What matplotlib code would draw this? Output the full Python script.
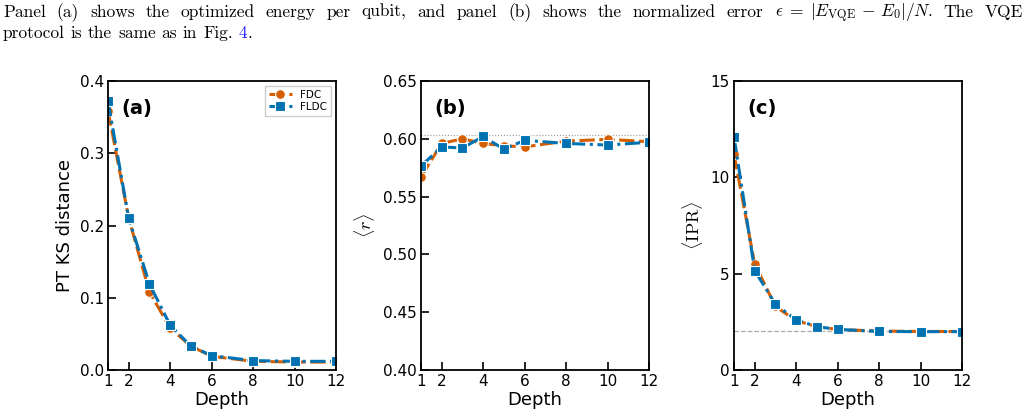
import matplotlib
matplotlib.use("Agg")
import matplotlib.pyplot as plt

# data
depth = [1, 2, 3, 4, 5, 6, 8, 10, 12]

ks_fdc = [0.359, 0.210, 0.108, 0.058, 0.033, 0.019, 0.012, 0.011, 0.011]
ks_fldc = [0.372, 0.210, 0.119, 0.062, 0.033, 0.020, 0.013, 0.012, 0.012]

r_fdc = [0.567, 0.596, 0.600, 0.596, 0.594, 0.593, 0.598, 0.5995, 0.5975]
r_fldc = [0.5765, 0.593, 0.592, 0.602, 0.591, 0.5987, 0.596, 0.5946, 0.597]
r_ref = 0.603

ipr_fdc = [11.2, 5.5, 3.3, 2.56, 2.25, 2.1, 2.02, 2.0, 2.0]
ipr_fldc = [12.1, 5.16, 3.41, 2.6, 2.25, 2.11, 2.0, 1.99, 1.99]
ipr_ref = 2.0

xticks = [1, 2, 4, 6, 8, 10, 12]

caption1 = ("Panel (a) shows the optimized energy per qubit, and panel (b) shows the "
            "normalized error").split() + [r"$\epsilon\;=\;|E_{\mathrm{VQE}}\,-\,E_0|/N$.", "The", "VQE"]
caption2 = "protocol is the same as in Fig.".split()

c_fdc = "#D55E00"
c_fldc = "#0072B2"

W, H = 1028, 418


#_____________________________________________________________________________
def main():

    plt.rcParams["mathtext.fontset"] = "cm"
    plt.rcParams["font.family"] = "DejaVu Sans"

    fig = plt.figure(figsize=(W / 100, H / 100), dpi=100)

    lefts = [108, 421, 734]
    axs = [fig.add_axes([l / W, 48 / H, 228 / W, 289 / H]) for l in lefts]

    panel(axs[0], ks_fdc, ks_fldc, "PT KS distance", (0, 0.4),
          [0.0, 0.1, 0.2, 0.3, 0.4], "(a)", "%.1f")
    axs[0].legend(loc="upper right", fontsize=7.5, handlelength=2.2,
                  borderpad=0.35, labelspacing=0.2, fancybox=False,
                  edgecolor="#cccccc", framealpha=1)

    panel(axs[1], r_fdc, r_fldc, r"$\langle r \rangle$", (0.4, 0.65),
          [0.40, 0.45, 0.50, 0.55, 0.60, 0.65], "(b)", "%.2f")
    axs[1].axhline(r_ref, color="#999999", ls=":", lw=0.8, zorder=0)

    panel(axs[2], ipr_fdc, ipr_fldc, r"$\langle \mathrm{IPR} \rangle$", (0, 15),
          [0, 5, 10, 15], "(c)", "%d")
    axs[2].axhline(ipr_ref, color="#aaaaaa", ls="--", lw=0.9, zorder=0)

    # caption above the figure
    r = fig.canvas.get_renderer()
    kw = dict(fontfamily="cmr10", fontsize=12.5, va="baseline")
    place_words(fig, r, caption1, 3, 1023, H - 17, kw, justify=True)
    xe = place_words(fig, r, caption2, 3, None, H - 38, kw)
    t4 = fig.text(xe / W, (H - 38) / H, "4", color="#2020ff", **kw)
    x4 = t4.get_window_extent(r).x1
    fig.text(x4 / W, (H - 38) / H, ".", **kw)

    fig.savefig("out.png", dpi=100)
    plt.close()

#main


#_____________________________________________________________________________
def panel(ax, y1, y2, ylab, ylim, yticks, tag, fmt):

    ax.plot(depth, y1, ls="--", color=c_fdc, lw=2.2, marker="o", ms=7,
            mec="white", mew=0.8, label="FDC", dashes=(5, 1.5))
    ax.plot(depth, y2, ls="-.", color=c_fldc, lw=2.2, marker="s", ms=7,
            mec="white", mew=0.8, label="FLDC", dashes=(5, 1.5, 1, 1.5))

    ax.set_xlim(1, 12)
    ax.set_ylim(*ylim)
    ax.set_xticks(xticks)
    ax.set_yticks(yticks)
    ax.set_yticklabels([fmt % v for v in yticks])
    ax.tick_params(direction="in", length=6, width=1.2, labelsize=11, pad=3)
    for s in ax.spines.values():
        s.set_linewidth(1.3)

    ax.set_xlabel("Depth", fontsize=13, labelpad=1)
    ax.set_ylabel(ylab, fontsize=13, labelpad=4)
    ax.text(0.06, 0.905, tag, transform=ax.transAxes, fontsize=14,
            fontweight="bold", va="center")

#panel


#_____________________________________________________________________________
def place_words(fig, r, words, x0, x1, y, kw, justify=False):

    ts = [fig.text(0, y / H, w, **kw) for w in words]
    ws = [t.get_window_extent(r).width for t in ts]
    sp = fig.text(0, 0, "a a", **kw)
    sp2 = fig.text(0, 0, "aa", **kw)
    gap = sp.get_window_extent(r).width - sp2.get_window_extent(r).width
    sp.remove()
    sp2.remove()
    if justify:
        gap = (x1 - x0 - sum(ws)) / (len(ws) - 1)
    x = x0
    for t, w in zip(ts, ws):
        t.set_x(x / W)
        x += w + gap
    return x

#place_words


#_____________________________________________________________________________
if __name__ == "__main__":

    main()
